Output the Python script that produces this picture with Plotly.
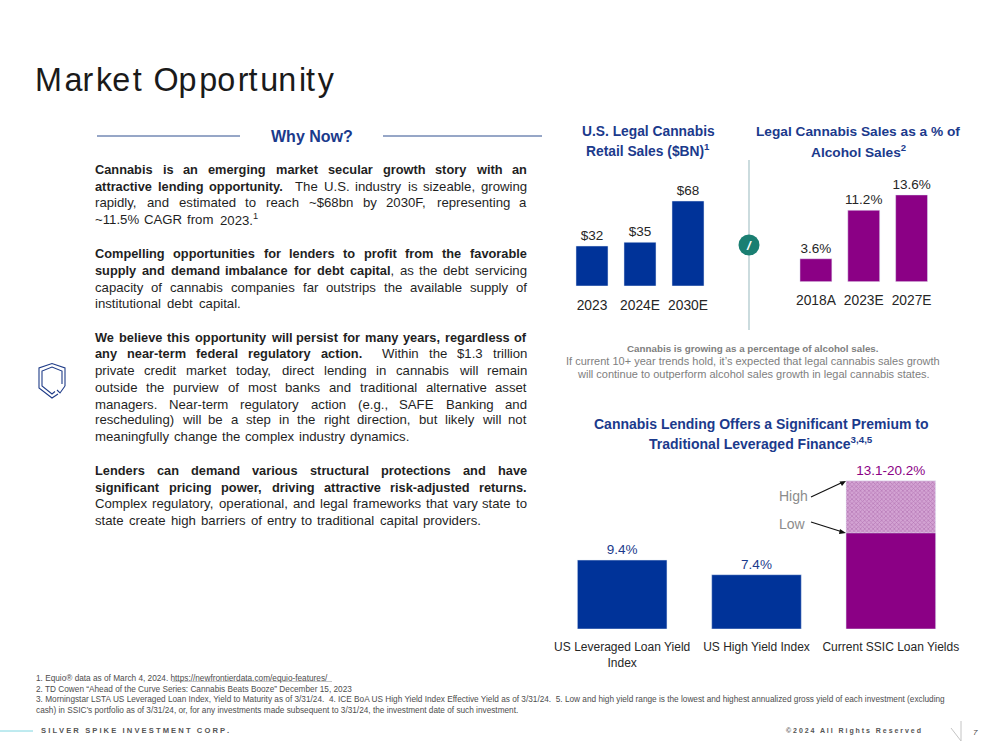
import plotly.graph_objects as go

# ---------- data ----------
sales_years = ["2023", "2024E", "2030E"]
sales_bn = [32, 35, 68]
sales_labels = ["$32", "$35", "$68"]
share_years = ["2018A", "2023E", "2027E"]
share_pct = [3.6, 11.2, 13.6]
share_labels = ["3.6%", "11.2%", "13.6%"]
yield_names = ["US Leveraged Loan Yield<br>Index", "US High Yield Index", "Current SSIC Loan Yields"]
index_names = yield_names[:2]
index_yields = [9.4, 7.4]
index_labels = ["9.4%", "7.4%"]
ssic_name = yield_names[2:]
ssic_low = [13.1]
ssic_high = [20.2]
ssic_label = ["13.1-20.2%"]

body_lines = [
    ("Cannabis is an emerging market secular growth story with an", "", 169, 527),
    ("attractive lending opportunity.", "The U.S. industry is sizeable, growing", 186, 527),
    ("", "rapidly, and estimated to reach ~$68bn by 2030F, representing a", 203, 527),
    ("", "~11.5% CAGR from 2023.<sup>1</sup>", 219, 258),
    ("Compelling opportunities for lenders to profit from the favorable", "", 253, 527),
    ("supply and demand imbalance for debt capital", ", as the debt servicing", 270, 527),
    ("", "capacity of cannabis companies far outstrips the available supply of", 287, 527),
    ("", "institutional debt capital.", 303, 241),
    ("We believe this opportunity will persist for many years, regardless of", "", 337, 527),
    ("any near-term federal regulatory action.", "Within the $1.3 trillion", 353, 527),
    ("", "private credit market today, direct lending in cannabis will remain", 370, 527),
    ("", "outside the purview of most banks and traditional alternative asset", 387, 527),
    ("", "managers. Near-term regulatory action (e.g., SAFE Banking and", 404, 527),
    ("", "rescheduling) will be a step in the right direction, but likely will not", 420, 527),
    ("", "meaningfully change the complex industry dynamics.", 437, 409),
    ("Lenders can demand various structural protections and have", "", 470, 527),
    ("significant pricing power, driving attractive risk-adjusted returns.", "", 487, 527),
    ("", "Complex regulatory, operational, and legal frameworks that vary state to", 503, 527),
    ("", "state create high barriers of entry to traditional capital providers.", 520, 481),
]
footnotes = [
    ("1. Equio® data as of March 4, 2024. https://newfrontierdata.com/equio-features/", 678),
    ("2. TD Cowen “Ahead of the Curve Series: Cannabis Beats Booze” December 15, 2023", 689),
    ("3. Morningstar LSTA US Leveraged Loan Index, Yield to Maturity as of 3/31/24.  4. ICE BoA US High Yield Index Effective Yield as of 3/31/24.  5. Low and high yield range is the lowest and highest annualized gross yield of each investment (excluding", 699),
    ("cash) in SSIC’s portfolio as of 3/31/24, or, for any investments made subsequent to 3/31/24, the investment date of such investment.", 710),
]

# ---------- styles ----------
W, H = 1000, 752
NAVY = "#003399"
TITLE = "#1B3A8C"
PURPLE = "#8B0085"
FONT = "Liberation Sans"
INK = "#262626"
GREY = "#808080"

REG = {" ": 278, "$": 556, "%": 889, "(": 333, ")": 333, ",": 278, "-": 333, ".": 278, "/": 278, "~": 584,
       "A": 667, "B": 667, "C": 722, "D": 722, "E": 667, "F": 611, "G": 778, "H": 722, "I": 278, "J": 500,
       "K": 667, "L": 556, "M": 833, "N": 722, "O": 778, "P": 667, "Q": 778, "R": 722, "S": 667, "T": 611,
       "U": 722, "V": 667, "W": 944, "X": 667, "Y": 667, "Z": 611, "a": 556, "b": 556, "c": 500, "d": 556,
       "e": 556, "f": 278, "g": 556, "h": 556, "i": 222, "j": 222, "k": 500, "l": 222, "m": 833, "n": 556,
       "o": 556, "p": 556, "q": 556, "r": 333, "s": 500, "t": 278, "u": 556, "v": 500, "w": 722, "x": 500,
       "y": 500, "z": 500}
BOLD = dict(REG)
BOLD.update({"L": 611, "a": 556, "b": 611, "c": 556, "d": 611, "e": 556, "f": 333, "g": 611, "h": 611, "i": 278,
             "j": 278, "k": 556, "l": 278, "m": 889, "n": 611, "o": 611, "p": 611, "q": 611, "r": 389, "s": 556,
             "t": 333, "u": 611, "v": 556, "w": 778, "x": 556, "y": 556, "z": 500})
BOLD_SIZE = 12.8
REG_SIZE = 13.2


def measure(s, table, size):
    s = s.replace("<sup>1</sup>", "1")
    return sum(table.get(c, 556) for c in s) * size / 1000


def ann(x, y, text, size=12, color=INK, anchor="center", bold=False, italic=False):
    return dict(x=x / W, y=1 - y / H, xref="paper", yref="paper", text=f"<b>{text}</b>" if bold else text,
                showarrow=False, xanchor=anchor, yanchor="middle", align=anchor if anchor != "center" else "center",
                font=dict(family=FONT, size=size, color=color, style="italic" if italic else "normal"),
                borderpad=0, borderwidth=0, bgcolor="rgba(0,0,0,0)")


def px_path(points, close=False):
    d = "M" + " L".join(f"{x / W:.5f},{1 - y / H:.5f}" for x, y in points)
    return d + (" Z" if close else "")


def justified(bold_text, reg_text, y, right, left=95):
    tokens = []
    bwords = bold_text.split()
    for w in bwords:
        tokens.append([f"<b>{w}</b>", measure(w, BOLD, BOLD_SIZE), 1.0, BOLD_SIZE])
    rwords = reg_text.split()
    if rwords and rwords[0].startswith(",") and tokens:
        tokens[-1][0] += rwords[0]
        tokens[-1][1] += measure(rwords[0], REG, REG_SIZE)
        rwords = rwords[1:]
    for i, w in enumerate(rwords):
        tokens.append([w, measure(w, REG, REG_SIZE), 2.0 if (i == 0 and bwords and bwords[-1].endswith(".")) else 1.0, REG_SIZE])
    total = sum(t[1] for t in tokens)
    weights = sum(t[2] for t in tokens[1:]) or 1
    gap = (right - left - total) / weights
    out, x = [], left
    for i, (html, width, weight, size) in enumerate(tokens):
        if i:
            x += gap * weight
        if i == len(tokens) - 1 and i > 0:
            out.append(ann(right, y, html, size, "#1F1F1F", "right"))
        else:
            out.append(ann(x, y, html, size, "#1F1F1F", "left"))
        x += width
    return out


def spaced(s, sep="\u200a"):
    return "".join(c + (sep if i % 2 == 0 and i < len(s) - 1 else "") for i, c in enumerate(s))


# ---------- traces ----------
LABEL = dict(family=FONT, size=13.5, color=INK)
fig = go.Figure()
fig.add_trace(go.Bar(x=sales_years, y=sales_bn, text=sales_labels, textposition="outside", cliponaxis=False,
                     constraintext="none", marker=dict(color=NAVY), width=0.667, xaxis="x", yaxis="y",
                     textfont=LABEL, showlegend=False))
fig.add_trace(go.Bar(x=share_years, y=share_pct, text=share_labels, textposition="outside", cliponaxis=False,
                     constraintext="none", marker=dict(color=PURPLE), width=0.667, xaxis="x2", yaxis="y2",
                     textfont=LABEL, showlegend=False))
fig.add_trace(go.Bar(x=ssic_name, y=ssic_high, text=ssic_label, textposition="outside", cliponaxis=False,
                     constraintext="none",
                     marker=dict(color="#D3A3D3", pattern=dict(shape="x", size=3, solidity=0.4, fgcolor="#B678B6", bgcolor="#D3A3D3", fillmode="replace")),
                     width=0.667, xaxis="x3", yaxis="y3",
                     textfont=dict(family=FONT, size=13.5, color=PURPLE), showlegend=False))
fig.add_trace(go.Bar(x=ssic_name, y=ssic_low, cliponaxis=False, marker=dict(color=PURPLE), width=0.667,
                     xaxis="x3", yaxis="y3", showlegend=False))
fig.add_trace(go.Bar(x=index_names, y=index_yields, text=index_labels, textposition="outside", cliponaxis=False,
                     constraintext="none", marker=dict(color=NAVY), width=0.667, xaxis="x3", yaxis="y3",
                     textfont=dict(family=FONT, size=13.5, color=TITLE), showlegend=False))


def xaxis(a, b, anchor, standoff, size=13.8, order=None):
    axis = dict(domain=[a / W, b / W], anchor=anchor, type="category", range=[-0.5, 2.5], showgrid=False, zeroline=False,
                showline=False, ticks="", ticklabelstandoff=standoff, tickangle=0,
                tickfont=dict(family=FONT, size=size, color=INK), automargin=False)
    if order:
        axis.update(categoryorder="array", categoryarray=order)
    return axis


def yaxis(bottom, top, ymax, anchor):
    return dict(domain=[1 - bottom / H, 1 - top / H], anchor=anchor, range=[0, ymax], visible=False, fixedrange=True)


annotations = [
    ann(35, 79.5, spaced("Market Opportunity"), 32.3, "#1A1A1A", "left"),
    ann(312, 137, "Why Now?", 16, TITLE, bold=True),
    ann(648, 132, "U.S. Legal Cannabis", 13.8, TITLE, bold=True),
    ann(648, 150, "Retail Sales ($BN)<sup>1</sup>", 13.8, TITLE, bold=True),
    ann(858, 132, "Legal Cannabis Sales as a % of", 13.7, TITLE, bold=True),
    ann(858, 150.5, "Alcohol Sales<sup>2</sup>", 13.7, TITLE, bold=True),
    ann(749, 245, "/", 13, "#FFFFFF", bold=True, italic=True),
    ann(753, 348, "Cannabis is growing as a percentage of alcohol sales.", 9.8, GREY, bold=True),
    ann(753, 361, "If current 10+ year trends hold, it’s expected that legal cannabis sales growth", 11, GREY),
    ann(753, 374, "will continue to outperform alcohol sales growth in legal cannabis states.", 11, GREY),
    ann(761, 424, "Cannabis Lending Offers a Significant Premium to", 14, TITLE, bold=True),
    ann(761, 443, "Traditional Leveraged Finance<sup>3,4,5</sup>", 14, TITLE, bold=True),
    ann(793, 496, "High", 14, "#8C8C8C"),
    ann(792, 524, "Low", 14, "#8C8C8C"),
    ann(41, 730.5, " ".join("SILVER SPIKE INVESTMENT CORP."), 7.6, "#555555", "left", bold=True),
    ann(921, 730.5, " ".join("©2024 All Rights Reserved"), 7, "#555555", "right", bold=True),
    ann(975, 732, "7", 8, "#444444", italic=True),
]
for b, r, y, right in body_lines:
    annotations += justified(b, r, y, right)
for text, y in footnotes:
    annotations.append(ann(36, y, text, 8.25, "#4D4D4D", "left"))

shapes = []


def line(x0, y0, x1, y1, color, width=1):
    shapes.append(dict(type="line", xref="paper", yref="paper", x0=x0 / W, x1=x1 / W, y0=1 - y0 / H, y1=1 - y1 / H,
                       line=dict(color=color, width=width)))


line(97, 136, 240, 136, "#2F4F8F", 1)
line(383, 136, 542, 136, "#2F4F8F", 1)
line(749, 160, 749, 330, "#A8C4C8", 1.2)
line(0, 731, 33, 731, "#7FD6E0", 1)
line(961, 721, 961, 741, "#C4C4C4", 1)
line(951, 728, 961, 741, "#C4C4C4", 1)
line(172, 681.5, 332, 681.5, "#888888", 0.5)
# High / Low arrows
line(811, 497, 841, 483, "#111111", 1.2)
line(811, 522, 841, 531.5, "#111111", 1.2)
for pts in [[(846, 481), (839.5, 481.5), (842, 486)], [(846, 533), (840, 529), (839, 534)]]:
    shapes.append(dict(type="path", xref="paper", yref="paper", path=px_path(pts, True), fillcolor="#111111", line=dict(width=0)))
shapes.append(dict(type="circle", xref="paper", yref="paper", x0=738.5 / W, x1=759.5 / W, y0=1 - 255.5 / H,
                   y1=1 - 234.5 / H, fillcolor="#1A7F72", line=dict(width=0)))
for pts in [
    [(65, 386), (65, 368), (52, 363.5), (39, 368), (39, 388), (52, 398), (58, 394)],
    [(62, 384), (62, 371), (52, 367), (42, 371), (42, 386), (52, 394), (55, 391.5)],
    [(57, 390), (60, 393), (65, 386)],
]:
    shapes.append(dict(type="path", xref="paper", yref="paper", path=px_path(pts), line=dict(color="#1F3C88", width=1.1)))

fig.update_layout(
    width=W, height=H, autosize=False, margin=dict(l=0, r=0, t=0, b=0),
    paper_bgcolor="#FFFFFF", plot_bgcolor="rgba(0,0,0,0)", showlegend=False, barmode="overlay",
    font=dict(family=FONT),
    xaxis=xaxis(568, 712, "y", 9),
    yaxis=yaxis(286, 186, 80, "x"),
    xaxis2=xaxis(792, 935.5, "y2", 8),
    yaxis2=yaxis(281.7, 181.7, 15.67, "x2"),
    xaxis3=xaxis(555, 958, "y3", 9, 12, yield_names),
    yaxis3=yaxis(629, 461, 22.9, "x3"),
    annotations=annotations, shapes=shapes,
)
fig.write_html("out.html", config=dict(displayModeBar=False),
               post_script="document.body.style.margin='0';document.documentElement.style.overflow='hidden';")
